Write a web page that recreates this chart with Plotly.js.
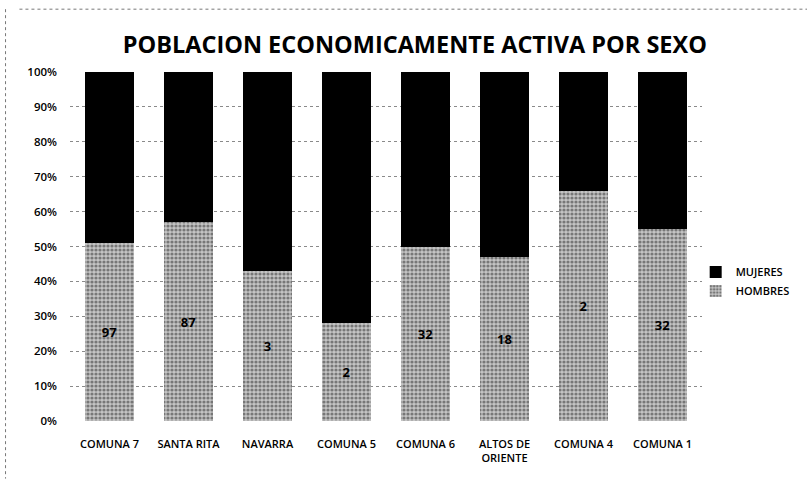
<!DOCTYPE html>
<html>
<head>
<meta charset="utf-8">
<script src="https://cdn.plot.ly/plotly-3.0.1.min.js"></script>
<style>html,body{margin:0;padding:0;background:#fff;}#chart{width:807px;height:479px;}</style>
</head>
<body>
<div id="chart"></div>
<script>
const categories = ["COMUNA 7", "SANTA RITA", "NAVARRA", "COMUNA 5", "COMUNA 6", "ALTOS DE<br>ORIENTE", "COMUNA 4", "COMUNA 1"];
const hombresPct = [51, 57, 43, 28, 50, 47, 66, 55];
const mujeresPct = [49, 43, 57, 72, 50, 53, 34, 45];
const hombresLabels = ["97", "87", "3", "2", "32", "18", "2", "32"];
const yTickVals = [0, 10, 20, 30, 40, 50, 60, 70, 80, 90, 100];
const yTickText = ["0%", "10%", "20%", "30%", "40%", "50%", "60%", "70%", "80%", "90%", "100%"];

const font = "'Open Sans', 'Liberation Sans', sans-serif";

const traces = [
  {
    type: "bar", name: "HOMBRES", legendgroup: "h", x: categories, y: hombresPct,
    text: hombresLabels, textposition: "inside", insidetextanchor: "middle",
    textfont: {family: font, size: 13, color: "#000", weight: 700},
    marker: {color: "#b8b8b8", pattern: {shape: ".", fgcolor: "#2a2a2a", bgcolor: "#c4c4c4", size: 4, solidity: 0.5, fillmode: "overlay"}},
    hoverinfo: "skip"
  },
  {
    type: "bar", name: "MUJERES", legendgroup: "m", x: categories, y: mujeresPct,
    marker: {color: "#000000"},
    hoverinfo: "skip"
  }
];

const layout = {
  width: 807, height: 479,
  paper_bgcolor: "#fff", plot_bgcolor: "#fff",
  margin: {l: 70, r: 101, t: 72, b: 58},
  barmode: "stack", bargap: 0.39,
  title: {text: "<b>POBLACION ECONOMICAMENTE ACTIVA POR SEXO</b>", font: {family: font, size: 23.5, color: "#000"}, x: 0.514, xanchor: "center", xref: "container", y: 0.907, yanchor: "middle", yref: "container"},
  xaxis: {tickfont: {family: font, size: 11, color: "#000", weight: 600}, showline: false, ticks: "", showgrid: false, automargin: false, ticklabelstandoff: 15},
  yaxis: {range: [0, 100], tickvals: yTickVals, ticktext: yTickText, tickfont: {family: font, size: 11.5, color: "#000", weight: 600},
          showgrid: true, gridcolor: "#8a8a8a", griddash: "dot", gridwidth: 1, zeroline: false, showline: false, ticks: "", ticklabelstandoff: 12, automargin: false},
  legend: {x: 0.99, y: 0.40, xanchor: "left", yanchor: "middle", traceorder: "reversed", font: {family: font, size: 11, color: "#000", weight: 600}, itemwidth: 30, tracegroupgap: 6, bgcolor: "rgba(0,0,0,0)"},
  showlegend: true,
  shapes: [
    {type: "line", xref: "paper", yref: "paper", x0: -0.08, x1: 1.17, y0: 1.18, y1: 1.18, line: {color: "#777", width: 1, dash: "dot"}},
    {type: "line", xref: "paper", yref: "paper", x0: -0.102, x1: -0.102, y0: 1.18, y1: -0.165, line: {color: "#777", width: 1, dash: "dot"}}
  ]
};

Plotly.newPlot("chart", traces, layout, {displayModeBar: false, staticPlot: true});
</script>
</body>
</html>
